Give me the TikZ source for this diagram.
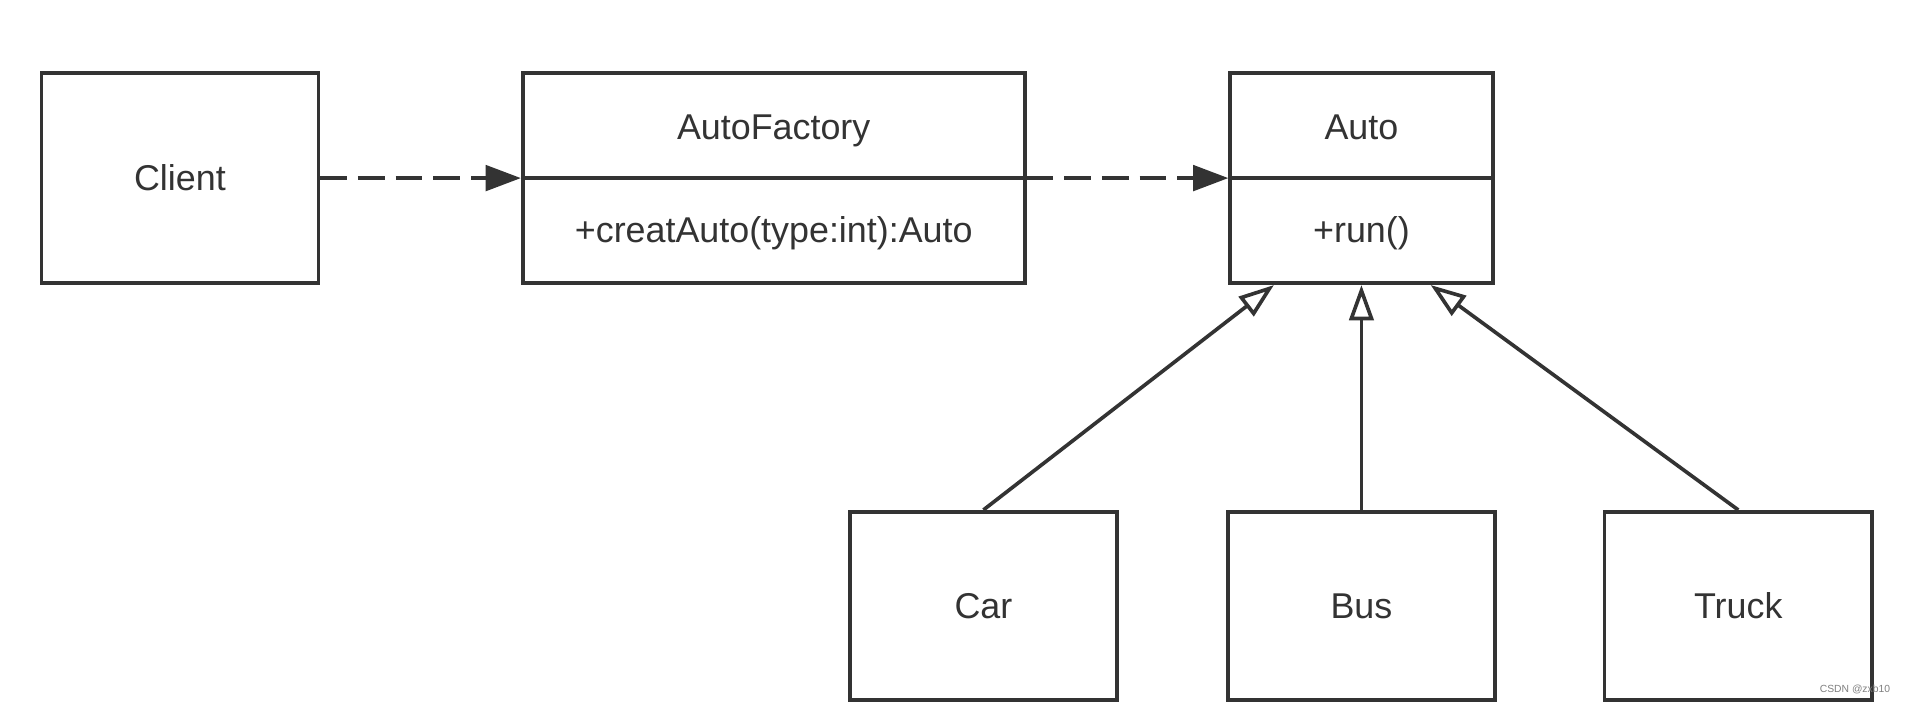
\documentclass[tikz,border=0pt]{standalone}
\usepackage{fontspec}
\setmainfont{Liberation Sans}
\usetikzlibrary{arrows.meta,calc}
\definecolor{ink}{HTML}{333333}
\begin{document}
\begin{tikzpicture}[x=1pt,y=-1pt,
  box/.style={draw=ink, line width=3pt, rectangle, inner sep=0pt, text=ink, text height=21pt, text depth=0pt, font=\fontsize{29.5}{34}\selectfont},
  lbl/.style={inner sep=0pt, text=ink, text height=21pt, text depth=0pt, font=\fontsize{29.5}{34}\selectfont},
  dep/.style={draw=ink, line width=3pt, dash pattern=on 22pt off 9pt, -{Triangle[length=29pt,width=21pt]}},
  gen/.style={draw=ink, line width=3pt, -{Triangle[open,length=29pt,width=20pt]}},
  divider/.style={draw=ink, line width=3pt}]
\useasboundingbox (0,0) rectangle (1568,579);
\fill[white] (0,0) rectangle (1568,579);
% classes
\node[box, minimum width=228, minimum height=173] (client) at (148,146.5) {Client};
\node[box, minimum width=413, minimum height=173] (af) at (636.5,146.5) {};
\draw[divider] (af.west) -- (af.east);
\node[lbl] (afname) at (636.5,104.5) {AutoFactory};
\node[lbl] (afop) at (636.5,189) {+creatAuto(type:int):Auto};
\node[box, minimum width=216, minimum height=173] (auto) at (1120,146.5) {};
\draw[divider] (auto.west) -- (auto.east);
\node[lbl] (autoname) at (1120,104.5) {Auto};
\node[lbl] (autoop) at (1120,189) {+run()};
\node[box, minimum width=220, minimum height=155] (car) at (809,498.5) {Car};
\node[box, minimum width=220, minimum height=155] (bus) at (1120,498.5) {Bus};
\node[box, minimum width=220, minimum height=155] (truck) at (1430,498.5) {Truck};
% connectors
\draw[dep] (client.east) -- (af.west);
\draw[dep] (af.east) -- (auto.west);
\coordinate (carend) at ($(auto.south)+(-72,0)$);
\coordinate (truckend) at ($(auto.south)+(57,0)$);
\draw[gen] (car.north) -- (carend);
\draw[gen] (bus.north) -- (auto.south);
\draw[gen] (truck.north) -- (truckend);
% watermark
\node[text=gray, inner sep=0pt, font=\fontsize{8.5}{10}\selectfont] (wm) at (1526,567) {CSDN @zxb10};
\end{tikzpicture}
\end{document}
